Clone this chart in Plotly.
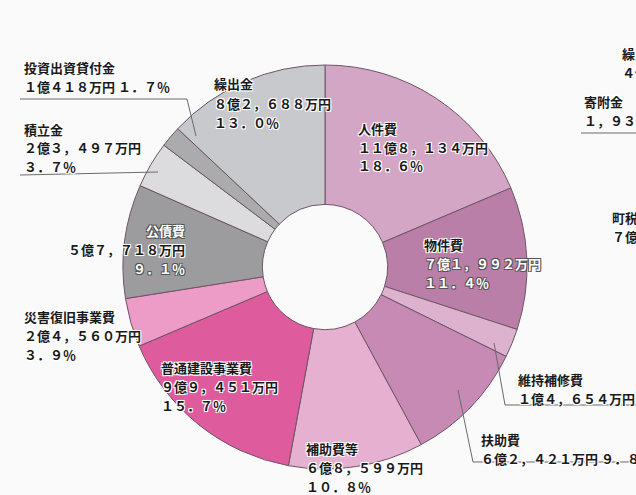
import plotly.graph_objects as go

# ---------------- data ----------------
categories = ["人件費", "物件費", "維持補修費", "扶助費", "補助費等", "普通建設事業費",
              "災害復旧事業費", "公債費", "積立金", "投資出資貸付金", "繰出金"]
amounts = ["11億8,134万円", "7億1,992万円", "1億4,654万円", "6億2,421万円", "6億8,599万円",
           "9億9,451万円", "2億4,560万円", "5億7,718万円", "2億3,497万円", "1億418万円",
           "8億2,688万円"]
percents = [18.6, 11.4, 2.3, 9.8, 10.8, 15.7, 3.9, 9.1, 3.7, 1.7, 13.0]

# cut-off labels of the neighbouring chart at the right edge
side_labels = [["繰入金", "4億"], ["寄附金", "1,939万円"], ["町税", "7億"]]

# ---------------- styles ----------------
W, H = 636, 495
colors = ["#D4A6C5", "#B97FA8", "#DDB2CF", "#C68AB4", "#E6B0D0", "#DE5C9D",
          "#EC9CC6", "#9C9C9F", "#DCDCDF", "#ABABAE", "#C8C9CD"]
CX, CY, R = 325, 267, 202
GAP = 19

FW = str.maketrans("0123456789,.%", "０１２３４５６７８９，．％")


def zen(s):
    return s.translate(FW)


def px(x, y):
    return x / W, 1 - y / H


# label layout: (x, block middle y, anchor, amount+pct on one line, line colours)
label_cfg = {
    "人件費": (357, 147, "left", False, "kkk"),
    "物件費": (423, 263, "left", False, "kww"),
    "維持補修費": (517, 389, "left", True, "kk"),
    "扶助費": (480, 449, "left", True, "kk"),
    "補助費等": (305, 467, "left", False, "kkk"),
    "普通建設事業費": (160, 386, "left", False, "kkk"),
    "災害復旧事業費": (23, 335, "left", False, "kkk"),
    "公債費": (186, 249, "right", False, "wkw"),
    "積立金": (23, 148, "left", False, "kkk"),
    "投資出資貸付金": (23, 77, "left", True, "kk"),
    "繰出金": (213, 103, "left", False, "kkk"),
}

halo_w = "1px 1px 0 #fff, -1px -1px 0 #fff, 1px -1px 0 #fff, -1px 1px 0 #fff, 0 0 2px #fff"
halo_k = "1px 1px 0 #555, -1px -1px 0 #555, 1px -1px 0 #555, -1px 1px 0 #555"
FONT = "Noto Sans CJK JP, Noto Sans, sans-serif"

fig = go.Figure()
x0, y1 = px(CX - R, CY - R)
x1, y0 = px(CX + R, CY + R)
fig.add_trace(go.Pie(
    labels=categories,
    values=percents,
    sort=False,
    direction="clockwise",
    rotation=0,
    hole=0.31,
    textinfo="none",
    hoverinfo="label+percent",
    marker=dict(colors=colors, line=dict(color="#6E5566", width=1)),
    domain=dict(x=[x0, x1], y=[y0, y1]),
    showlegend=False,
))

annotations = []


def add_block(x, ymid, anchor, lines, cols):
    n = len(lines)
    for i, (line, c) in enumerate(zip(lines, cols)):
        ly = ymid + (i - (n - 1) / 2) * GAP
        ax, ay = px(x, ly)
        white = c == "w"
        annotations.append(dict(
            x=ax, y=ay, xref="paper", yref="paper", xanchor=anchor, yanchor="middle",
            text=zen(line), showarrow=False, borderpad=0,
            font=dict(family=FONT, size=13, weight=700,
                      color="#FFFFFF" if white else "#1A1A1A",
                      shadow=halo_k if white else halo_w),
        ))


for name, amt, pct in zip(categories, amounts, percents):
    x, ymid, anchor, combine, cols = label_cfg[name]
    p = f"{pct:.1f}%"
    lines = [name, amt + " " + p] if combine else [name, amt, p]
    add_block(x, ymid, anchor, lines, cols)

# neighbouring chart labels (clipped at the right edge)
side_pos = [(621, 63), (583, 111), (611, 227)]
for (sx, sy), lines in zip(side_pos, side_labels):
    add_block(sx, sy, "left", lines, "kk")

# leader lines
leaders = [
    [(20, 99), (187, 99), (196, 136)],
    [(20, 175), (158, 172)],
    [(494, 343), (505, 405), (640, 405)],
    [(458, 390), (473, 462), (640, 462)],
    [(581, 133), (640, 133)],
]
shapes = []
for pts in leaders:
    path = ""
    for j, (lx, ly) in enumerate(pts):
        qx, qy = px(lx, ly)
        path += ("M" if j == 0 else "L") + f"{qx:.5f},{qy:.5f} "
    shapes.append(dict(type="path", path=path.strip(), xref="paper", yref="paper",
                       line=dict(color="#6A6A6A", width=1)))

fig.update_layout(
    width=W, height=H,
    margin=dict(l=0, r=0, t=0, b=0),
    paper_bgcolor="#FAFAFA",
    plot_bgcolor="#FAFAFA",
    annotations=annotations,
    shapes=shapes,
)

fig.write_html("out.html", config={"displayModeBar": False},
               post_script="document.body.style.margin='0';")
